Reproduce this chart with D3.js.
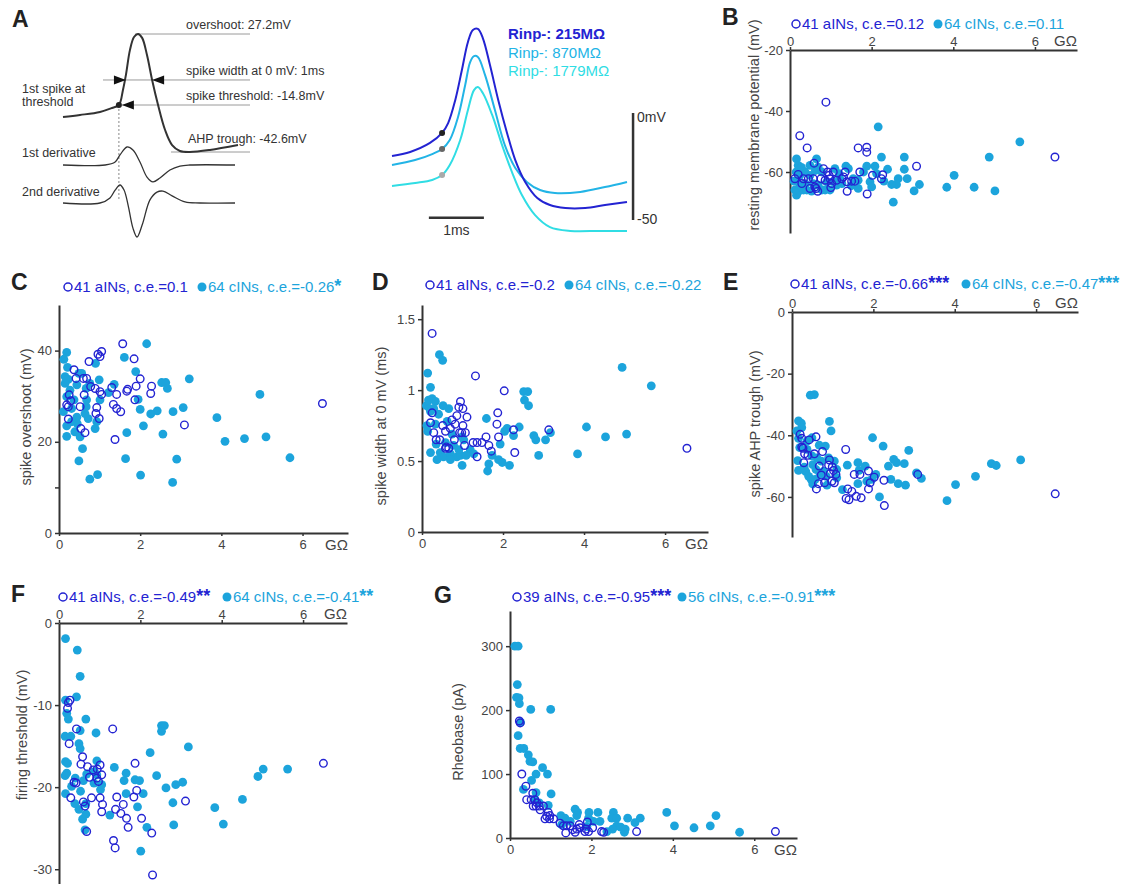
<!DOCTYPE html>
<html>
<head>
<meta charset="utf-8">
<script src="https://cdn.jsdelivr.net/npm/d3@7"></script>
<style>
  body { margin: 0; background: #fff; }
  svg { font-family: "Liberation Sans", Arial, sans-serif; }
  .axis path, .axis line { stroke: #333; }
  .axis path { stroke-width: 2; }
  .axis line { stroke-width: 1.5; }
  .axis text { fill: #444; font-size: 13px; font-family: "Liberation Sans", Arial, sans-serif; }
</style>
</head>
<body>
<svg id="fig" width="1126" height="884"></svg>
<script>
// ---- panel A, left: example spike (ms, mV) and its derivatives (a.u.)
const spikeTrace = [[0,-21.9],[0.63,-20.7],[1.37,-18.9],[1.81,-16.6],[2.07,-14.8],[2.22,-5.9],[2.33,3.0],[2.48,17.8],[2.63,25.4],[2.78,27.2],[2.93,24.9],[3.11,14.8],[3.3,0],[3.52,-14.8],[3.78,-29.6],[4.04,-38.5],[4.33,-42.0],[4.7,-42.6],[5.44,-41.4],[6.48,-38.5]];
const deriv1 = [[0,0],[1.56,0],[1.93,0.17],[2.11,0.56],[2.37,1.0],[2.59,0.83],[2.85,0.17],[3.11,-0.67],[3.33,-0.94],[3.59,-0.72],[3.96,-0.28],[4.33,-0.06],[4.7,0],[6.37,0]];
const deriv2 = [[0,0],[1.37,0],[1.74,0.15],[1.93,0.38],[2.11,0.53],[2.26,0.38],[2.41,-0.06],[2.59,-0.74],[2.74,-1.0],[2.93,-0.65],[3.22,0.09],[3.48,0.32],[3.7,0.35],[4.04,0.21],[4.52,0.03],[5.07,0],[6.37,0]];
const spikeMarks = { overshoot: 27.2, threshold: -14.8, ahp: -42.6, tThreshold: 2.07, widthStart: 2.33, widthEnd: 3.3 };

// ---- panel A, middle: spikes of three cells (ms, mV)
const rinLabels = ["Rinp-: 215MΩ", "Rinp-: 870MΩ", "Rinp-: 1779MΩ"];
const trace215 = [[0,-20.1],[0.33,-18.2],[0.69,-14.0],[0.91,-9.3],[1.02,-4.7],[1.15,6.1],[1.27,20.1],[1.38,33.2],[1.47,38.8],[1.56,39.3],[1.65,35.0],[1.78,22.4],[1.93,6.1],[2.09,-9.3],[2.24,-22.0],[2.42,-32.2],[2.64,-39.7],[2.87,-43.0],[3.15,-44.4],[3.51,-44.4],[3.87,-43.0],[4.27,-41.6]];
const trace870 = [[0,-24.3],[0.42,-22.0],[0.73,-19.2],[0.91,-16.8],[1.05,-12.6],[1.2,-1.9],[1.33,13.1],[1.42,23.8],[1.49,26.6],[1.56,26.2],[1.69,17.8],[1.87,1.4],[2.05,-15.0],[2.24,-25.7],[2.45,-32.2],[2.69,-36.0],[2.96,-37.4],[3.42,-36.9],[3.87,-34.6],[4.27,-32.2]];
const trace1779 = [[0,-34.1],[0.42,-32.7],[0.73,-31.3],[0.91,-29.0],[1.05,-24.3],[1.24,-12.6],[1.38,1.4],[1.49,10.7],[1.56,12.1],[1.65,9.3],[1.82,-0.9],[2.0,-15.0],[2.18,-27.6],[2.36,-38.3],[2.6,-47.7],[2.87,-53.3],[3.24,-55.1],[3.78,-55.1],[4.27,-55.1]];
const thresholdT = 0.91;

// ---- scatter data: [input resistance (GΩ), value]
const gohmTicks = [0, 2, 4, 6];

const restA = [[0.88,-37.1],[0.24,-48.1],[0.42,-52.1],[1.67,-52.1],[1.88,-51.9],[1.88,-53.5],[0.59,-57.1],[0.82,-58.9],[0.20,-60.8],[0.29,-63.8],[0.33,-62.2],[0.45,-62.2],[0.61,-64.9],[0.68,-66.3],[0.64,-65.4],[0.76,-62.2],[0.92,-60.0],[0.98,-62.2],[1.02,-63.8],[1.00,-65.1],[1.06,-60.0],[0.96,-61.1],[1.35,-60.0],[1.31,-61.6],[1.39,-63.2],[1.40,-66.3],[1.51,-63.0],[1.59,-63.0],[1.71,-60.0],[1.89,-67.2],[2.02,-61.1],[2.24,-62.2],[2.27,-60.9],[3.10,-58.1],[6.49,-55.1],[0.57,-62.2],[0.12,-62.2],[0.49,-65.4],[0.86,-62.7],[1.14,-62.7],[1.27,-62.2]];
const restC = [[2.16,-45.2],[5.63,-50.1],[4.88,-55.1],[2.24,-55.1],[2.80,-55.1],[0.16,-55.7],[4.02,-61.1],[3.84,-65.0],[4.51,-65.0],[5.02,-66.2],[2.53,-69.9],[3.17,-64.1],[3.04,-66.2],[2.87,-62.2],[2.80,-59.1],[2.65,-62.2],[2.61,-64.1],[2.49,-64.1],[2.39,-59.1],[2.08,-58.1],[1.88,-58.1],[1.96,-63.2],[2.00,-64.9],[1.67,-65.4],[1.55,-62.2],[1.37,-58.1],[1.22,-62.2],[1.27,-63.8],[1.14,-64.3],[0.98,-65.9],[0.90,-63.2],[0.65,-55.7],[0.49,-57.8],[0.37,-60.0],[0.33,-65.9],[0.20,-66.5],[0.16,-67.6],[0.12,-65.9],[0.10,-63.0],[0.15,-60.0],[0.20,-57.8],[0.24,-61.1],[0.41,-65.9],[0.53,-66.3],[0.69,-64.3],[0.78,-65.9],[0.86,-65.9],[0.49,-61.1],[0.69,-58.4],[0.78,-60.0],[1.06,-63.2],[1.10,-58.9],[1.43,-58.9],[1.67,-62.7],[1.80,-60.0],[2.12,-60.5],[0.24,-64.3],[0.57,-63.8],[0.37,-63.8],[0.62,-59.5],[1.20,-60.5],[1.50,-64.5],[0.28,-58.5],[2.30,-63.0]];

const overA = [[1.57,41.5],[1.05,39.8],[0.96,39.2],[1.01,38.7],[0.74,37.6],[1.85,38.2],[0.37,35.8],[0.42,33.9],[0.60,33.9],[0.68,33.9],[0.78,32.1],[0.89,31.7],[1.01,31.0],[1.05,30.4],[0.62,30.3],[0.25,30.3],[0.29,29.0],[0.19,28.1],[0.23,27.7],[0.52,27.7],[0.93,27.5],[0.91,26.2],[0.99,25.1],[0.23,25.0],[0.54,22.9],[0.64,22.0],[1.30,31.9],[1.34,28.2],[1.42,27.3],[1.52,26.6],[1.38,20.5],[1.42,30.4],[1.67,31.1],[1.69,31.5],[1.90,32.2],[2.00,33.8],[1.87,29.2],[2.28,32.2],[2.26,30.6],[3.09,23.7],[6.49,28.4]];
const overC = [[2.16,41.5],[0.19,39.6],[0.12,38.1],[1.61,38.5],[0.90,37.2],[0.21,36.3],[0.49,35.0],[1.89,35.4],[0.15,34.3],[0.23,33.7],[0.15,32.8],[0.44,32.5],[0.99,33.6],[1.36,32.6],[3.21,33.8],[2.53,33.0],[2.63,33.0],[2.67,31.7],[0.67,31.7],[0.76,32.8],[1.22,30.8],[0.19,29.9],[0.37,29.2],[4.95,30.4],[1.95,29.3],[0.67,27.7],[3.06,27.5],[0.11,26.6],[0.31,27.3],[2.42,26.8],[2.26,26.1],[2.00,27.1],[2.81,26.6],[3.89,25.3],[0.44,25.4],[0.72,25.1],[0.45,24.0],[0.93,24.4],[0.19,23.5],[2.08,23.5],[0.39,22.2],[2.56,21.7],[1.67,22.0],[0.19,21.2],[4.57,20.7],[5.10,21.1],[4.09,20.1],[0.58,18.5],[0.49,15.8],[1.64,16.3],[2.90,16.2],[5.69,16.5],[0.95,12.8],[0.76,11.8],[2.01,12.7],[2.80,11.1],[0.52,21.1],[0.64,26.2],[0.27,31.3],[0.68,29.2],[0.56,35.0],[1.01,29.2],[0.31,24.4],[0.89,22.9]];

const widthA = [[0.25,1.40],[1.32,1.10],[2.03,0.995],[0.25,0.84],[0.95,0.92],[0.91,0.88],[1.01,0.87],[1.87,0.84],[0.21,0.77],[0.86,0.82],[0.74,0.79],[0.51,0.75],[1.01,0.75],[1.85,0.76],[0.70,0.73],[0.29,0.70],[0.93,0.70],[1.07,0.70],[2.26,0.72],[3.13,0.72],[0.58,0.71],[0.35,0.65],[0.44,0.65],[0.80,0.65],[1.89,0.67],[1.58,0.67],[1.36,0.63],[1.48,0.63],[1.26,0.63],[1.05,0.61],[0.58,0.59],[0.66,0.59],[1.65,0.61],[1.71,0.57],[2.29,0.56],[1.36,0.53],[6.54,0.59],[0.82,0.76],[0.60,0.60],[1.11,0.81],[0.98,0.70]];
const widthC = [[0.43,1.25],[0.51,1.21],[0.14,1.12],[0.21,1.02],[0.11,0.89],[0.25,0.94],[0.33,0.92],[0.19,0.87],[0.52,0.89],[0.66,0.87],[0.41,0.83],[4.94,1.16],[5.66,1.03],[2.51,0.99],[2.61,0.99],[2.53,0.93],[2.63,0.89],[2.40,0.74],[2.04,0.71],[2.10,0.73],[4.06,0.74],[4.53,0.67],[5.05,0.69],[2.76,0.68],[2.81,0.65],[3.05,0.65],[3.17,0.70],[3.84,0.55],[2.88,0.54],[1.59,0.80],[0.12,0.75],[0.14,0.71],[0.21,0.56],[0.35,0.62],[0.45,0.56],[0.53,0.53],[0.70,0.55],[0.86,0.53],[0.95,0.54],[0.99,0.47],[1.19,0.58],[1.62,0.43],[1.65,0.48],[1.89,0.51],[1.98,0.49],[2.16,0.47],[1.93,0.62],[1.73,0.54],[0.58,0.63],[0.78,0.61],[0.91,0.58],[0.99,0.67],[0.33,0.76],[0.21,0.85],[0.62,0.78],[0.74,0.69],[0.29,0.87],[2.26,0.68],[1.28,0.55],[0.70,0.51],[0.37,0.51],[1.03,0.65],[1.09,0.54],[0.16,0.93]];

const ahpA = [[0.59,-40.5],[0.20,-39.7],[0.24,-41.0],[0.42,-41.5],[0.24,-43.8],[0.27,-44.2],[0.31,-46.0],[0.39,-46.5],[0.29,-48.9],[0.75,-45.3],[0.55,-46.0],[1.32,-44.6],[0.92,-48.0],[0.67,-50.0],[0.99,-50.3],[1.02,-51.4],[0.94,-52.4],[1.08,-52.7],[0.72,-52.9],[0.98,-54.9],[1.04,-55.4],[0.80,-55.4],[0.65,-55.7],[0.60,-57.4],[1.53,-52.7],[1.67,-52.7],[1.88,-51.6],[1.92,-55.4],[1.88,-57.4],[2.02,-53.6],[2.26,-54.6],[3.09,-52.7],[1.37,-57.4],[1.47,-58.2],[1.33,-60.5],[1.40,-60.9],[1.58,-59.8],[1.70,-60.3],[2.27,-62.8],[6.47,-59.0],[0.90,-49.7]];
const ahpC = [[0.45,-27.0],[0.55,-26.8],[0.16,-35.3],[0.23,-36.1],[0.92,-35.5],[0.96,-38.6],[1.98,-40.8],[2.24,-43.5],[2.87,-44.9],[2.50,-47.8],[2.57,-48.9],[2.76,-49.2],[4.90,-49.2],[5.02,-49.8],[5.62,-48.0],[4.51,-53.3],[4.02,-56.0],[3.81,-61.2],[2.15,-60.0],[2.43,-54.3],[2.61,-55.7],[2.79,-56.2],[3.06,-52.2],[3.18,-54.0],[1.36,-49.7],[1.62,-48.9],[1.65,-51.4],[1.62,-55.7],[1.24,-57.6],[2.06,-52.7],[0.12,-38.6],[0.16,-41.0],[0.14,-48.2],[0.16,-51.4],[0.34,-51.8],[0.30,-50.3],[0.47,-54.3],[0.51,-55.8],[0.57,-54.3],[0.67,-43.2],[0.82,-43.5],[0.61,-47.3],[0.72,-48.4],[0.51,-49.5],[0.59,-51.1],[0.78,-51.6],[0.84,-53.3],[0.37,-44.6],[0.49,-46.7],[0.90,-47.3],[1.10,-53.8],[1.04,-48.4],[0.19,-44.0],[0.37,-41.8],[0.24,-37.5],[0.69,-52.7],[1.96,-54.3],[1.84,-54.9],[0.86,-56.2],[0.41,-53.3],[1.10,-51.1],[2.37,-50.0],[1.80,-50.0],[0.49,-40.8]];

const threshA = [[0.27,-9.4],[0.23,-9.7],[0.21,-10.4],[0.43,-12.9],[1.32,-12.9],[0.25,-14.7],[0.58,-16.3],[0.54,-17.2],[0.70,-17.5],[1.01,-17.3],[0.94,-17.8],[1.87,-17.1],[0.84,-17.9],[0.75,-18.8],[1.05,-18.5],[0.93,-18.9],[0.97,-19.3],[0.37,-19.4],[0.42,-19.5],[1.91,-20.4],[0.29,-21.3],[0.80,-21.3],[1.01,-21.3],[1.42,-21.2],[1.84,-21.2],[3.11,-21.7],[0.60,-21.8],[0.64,-22.3],[1.07,-22.1],[1.58,-22.1],[1.39,-22.7],[1.05,-23.0],[1.52,-23.2],[1.66,-23.8],[2.03,-23.8],[1.70,-24.9],[0.68,-25.4],[2.28,-25.6],[1.34,-26.5],[1.38,-27.4],[2.30,-30.7],[6.50,-17.1]];
const threshC = [[0.16,-1.9],[0.45,-3.3],[0.52,-6.5],[0.43,-9.0],[0.16,-9.4],[0.19,-11.0],[0.23,-11.7],[0.66,-11.7],[0.52,-13.1],[0.91,-13.4],[0.15,-13.8],[0.29,-13.8],[0.49,-14.7],[2.52,-12.5],[2.59,-12.5],[2.52,-13.2],[3.18,-15.1],[2.24,-15.8],[0.16,-16.9],[0.21,-17.1],[0.19,-18.3],[0.15,-18.6],[0.93,-16.8],[1.36,-17.6],[1.65,-18.3],[1.60,-19.2],[1.87,-19.1],[1.98,-19.2],[2.40,-18.6],[2.87,-19.7],[3.04,-19.4],[2.63,-20.1],[0.16,-20.8],[0.53,-20.5],[1.02,-20.3],[1.65,-20.8],[2.07,-20.8],[2.80,-21.9],[0.49,-22.7],[0.58,-23.9],[0.66,-23.3],[1.25,-23.4],[1.93,-22.4],[0.64,-25.2],[2.16,-24.9],[2.82,-24.6],[2.01,-27.8],[3.83,-22.5],[4.51,-21.5],[4.04,-24.5],[4.89,-18.7],[5.02,-17.8],[5.62,-17.8],[0.60,-19.2],[0.68,-18.4],[0.86,-19.5],[0.31,-19.9],[0.39,-22.0],[0.93,-18.5],[0.52,-15.3],[0.87,-18.1],[0.40,-18.9],[0.66,-22.0],[1.05,-19.7]];

const rheoA = [[0.25,180],[0.29,100],[0.39,81],[0.41,60],[0.56,70],[0.61,60],[0.57,50],[0.64,50],[0.72,50],[0.82,50],[0.94,40],[0.98,35],[0.86,30],[0.97,30],[1.07,30],[1.31,19],[1.39,19],[1.37,8],[1.48,19],[1.54,13],[1.64,14],[1.70,21],[1.60,9],[1.72,16],[1.84,10],[1.87,14],[1.90,25],[1.93,10],[2.03,16],[2.25,10],[2.30,9],[3.11,10],[6.52,10],[1.23,23],[0.90,34],[0.74,44],[0.52,60],[0.23,183],[0.66,55]];
const rheoC = [[0.12,300],[0.20,300],[0.18,240],[0.16,220],[0.22,219],[0.23,210],[0.26,181],[0.51,201],[1.00,201],[0.20,160],[0.25,140],[0.34,140],[0.45,130],[0.49,120],[0.56,119],[0.80,110],[0.64,100],[0.92,100],[0.53,90],[0.33,76],[0.64,71],[1.01,69],[0.61,60],[0.72,55],[0.94,51],[1.25,35],[1.35,31],[1.60,45],[1.66,40],[1.64,35],[1.94,40],[2.16,40],[1.93,31],[2.05,26],[2.21,26],[2.54,40],[2.50,31],[2.62,31],[2.62,19],[2.52,14],[2.72,17],[2.83,14],[2.81,9],[2.89,31],[3.07,24],[3.20,31],[3.85,40],[4.04,19],[4.52,16],[4.92,19],[5.06,35],[5.64,9],[1.89,18],[1.48,26],[2.38,10],[1.27,21]];

const aColor = "#2323d2", cColor = "#1ca4dc", c870 = "#22b4e6", c1779 = "#30dde4";
const svg = d3.select("#fig");

function panelLetter(txt, x, y) {
  svg.append("text").attr("x", x).attr("y", y).attr("font-size", 23).attr("font-weight", "bold")
    .attr("fill", "#222").text(txt);
}

// ================= panel A, left =================
const xA = d3.scaleLinear().domain([0, 6.48]).range([63, 238]);
const yA = d3.scaleLinear().domain([-42.6, 27.2]).range([152, 34]);
const yD1 = d3.scaleLinear().domain([-1, 1]).range([183, 147]);
const yD2 = d3.scaleLinear().domain([-1, 1]).range([237, 169]);
const curve = d3.curveCatmullRom.alpha(0.5);

const gA = svg.append("g");
const annColor = "#9a9a9a";
// guide lines
gA.append("line").attr("x1", xA(2.68)).attr("x2", 250).attr("y1", yA(spikeMarks.overshoot)).attr("y2", yA(spikeMarks.overshoot)).attr("stroke", annColor);
gA.append("line").attr("x1", 103).attr("x2", 250).attr("y1", yA(0)).attr("y2", yA(0)).attr("stroke", annColor);
gA.append("line").attr("x1", xA(spikeMarks.tThreshold) + 3).attr("x2", 250).attr("y1", yA(spikeMarks.threshold)).attr("y2", yA(spikeMarks.threshold)).attr("stroke", annColor);
gA.append("line").attr("x1", xA(4.0)).attr("x2", 250).attr("y1", yA(spikeMarks.ahp)).attr("y2", yA(spikeMarks.ahp)).attr("stroke", annColor);
gA.append("line").attr("x1", xA(spikeMarks.tThreshold)).attr("x2", xA(spikeMarks.tThreshold))
  .attr("y1", yA(spikeMarks.threshold)).attr("y2", yD2(0) - 2)
  .attr("stroke", "#888").attr("stroke-dasharray", "2,2");

const lineA = d3.line().x(d => xA(d[0])).curve(curve);
gA.append("path").attr("d", lineA.y(d => yA(d[1]))(spikeTrace)).attr("fill", "none").attr("stroke", "#333").attr("stroke-width", 2);
gA.append("path").attr("d", lineA.y(d => yD1(d[1]))(deriv1)).attr("fill", "none").attr("stroke", "#333").attr("stroke-width", 1.3);
gA.append("path").attr("d", lineA.y(d => yD2(d[1]))(deriv2)).attr("fill", "none").attr("stroke", "#333").attr("stroke-width", 1.3);
gA.append("circle").attr("cx", xA(spikeMarks.tThreshold)).attr("cy", yA(spikeMarks.threshold)).attr("r", 3).attr("fill", "#222");

// arrow heads
function arrowHead(tipX, tipY, dir) {
  const L = 12, H = 4.5;
  gA.append("path").attr("d", `M${tipX},${tipY} L${tipX - dir * L},${tipY - H} L${tipX - dir * L},${tipY + H} Z`).attr("fill", "#111");
}
arrowHead(xA(spikeMarks.widthStart), yA(0), 1);
arrowHead(xA(spikeMarks.widthEnd), yA(0), -1);
arrowHead(xA(spikeMarks.tThreshold) + 3, yA(spikeMarks.threshold), -1);

const annTexts = [
  ["overshoot: 27.2mV", 186, 29], ["spike width at 0 mV: 1ms", 186, 75],
  ["spike threshold: -14.8mV", 186, 100], ["AHP trough: -42.6mV", 188, 143],
  ["1st spike at", 22, 93], ["threshold", 22, 106],
  ["1st derivative", 22, 157], ["2nd derivative", 22, 196]
];
gA.selectAll(".ann").data(annTexts).join("text").attr("class", "ann")
  .attr("x", d => d[1]).attr("y", d => d[2]).attr("font-size", 12.5).attr("fill", "#333").text(d => d[0]);

panelLetter("A", 12, 27);

// ================= panel A, middle =================
const xM = d3.scaleLinear().domain([0, 4.27]).range([392, 627]);
const yM = d3.scaleLinear().domain([-50, 0]).range([220, 113]);
const gM = svg.append("g");
const lineM = d3.line().x(d => xM(d[0])).y(d => yM(d[1])).curve(curve);
const mTraces = [[trace1779, c1779], [trace870, c870], [trace215, aColor]];
mTraces.forEach(([tr, col]) => {
  gM.append("path").attr("d", lineM(tr)).attr("fill", "none").attr("stroke", col).attr("stroke-width", 2);
});
const dotCols = ["#222", "#666", "#aaa"];
[trace215, trace870, trace1779].forEach((tr, i) => {
  const p = tr.find(d => d[0] === thresholdT);
  gM.append("circle").attr("cx", xM(p[0])).attr("cy", yM(p[1])).attr("r", 3).attr("fill", dotCols[i]);
});
[aColor, c870, c1779].forEach((col, i) => {
  gM.append("text").attr("x", 508).attr("y", 39 + i * 18.5).attr("font-size", 15)
    .attr("font-weight", i === 0 ? "bold" : "normal").attr("fill", col).text(rinLabels[i]);
});
// scale bars
gM.append("line").attr("x1", xM(0.67)).attr("x2", xM(1.67)).attr("y1", yM(-49)).attr("y2", yM(-49)).attr("stroke", "#333").attr("stroke-width", 2.5);
gM.append("text").attr("x", xM(1.17)).attr("y", 235).attr("text-anchor", "middle").attr("font-size", 14).attr("fill", "#333").text("1ms");
gM.append("line").attr("x1", xM(4.38)).attr("x2", xM(4.38)).attr("y1", yM(0)).attr("y2", yM(-50)).attr("stroke", "#333").attr("stroke-width", 2.5);
gM.append("text").attr("x", 637).attr("y", 122).attr("font-size", 14).attr("fill", "#333").text("0mV");
gM.append("text").attr("x", 637).attr("y", 224).attr("font-size", 14).attr("fill", "#333").text("-50");

// ================= scatter panels =================
function scatterPanel(p) {
  const x = d3.scaleLinear().domain([0, p.xMax]).range([p.left, p.right]);
  const y = d3.scaleLinear().domain(p.yDomain).range([p.bottom, p.top]);
  const g = svg.append("g");
  const lineY = p.axisTop ? p.top : p.bottom;

  const xAxis = (p.axisTop ? d3.axisTop(x) : d3.axisBottom(x))
    .tickValues(gohmTicks).tickFormat(d3.format("d"))
    .tickSize(3).tickPadding(p.axisTop ? 1 : 4).tickSizeOuter(0);
  g.append("g").attr("class", "axis").attr("transform", `translate(0,${lineY})`).call(xAxis);
  g.append("g").attr("class", "axis").attr("transform", `translate(${p.left},0)`)
    .call(d3.axisLeft(y).tickValues(p.yTicks).tickFormat(p.yFormat).tickSize(4).tickPadding(3).tickSizeOuter(0));

  g.append("text").attr("x", p.right).attr("y", p.axisTop ? lineY - 4 : lineY + 17)
    .attr("text-anchor", "end").attr("font-size", 15).attr("fill", "#444").text("GΩ");

  g.append("text").attr("transform", `translate(${p.titleX},${p.titleY}) rotate(-90)`)
    .attr("text-anchor", "middle").attr("font-size", 14.5).attr("fill", "#444").text(p.title);

  g.selectAll(".cdot").data(p.cData).join("circle").attr("class", "cdot")
    .attr("cx", d => x(d[0])).attr("cy", d => y(d[1])).attr("r", 4.4).attr("fill", cColor);
  g.selectAll(".aring").data(p.aData).join("circle").attr("class", "aring")
    .attr("cx", d => x(d[0])).attr("cy", d => y(d[1])).attr("r", 3.8)
    .attr("fill", "none").attr("stroke", aColor).attr("stroke-width", 1.4);

  // legend
  const L = p.legend;
  g.append("circle").attr("cx", L.ax).attr("cy", L.y - 5).attr("r", 4).attr("fill", "none").attr("stroke", aColor).attr("stroke-width", 1.5);
  const ta = g.append("text").attr("x", L.ax + 6).attr("y", L.y).attr("font-size", 15).attr("fill", aColor);
  ta.append("tspan").text(L.aText);
  if (L.aStar) ta.append("tspan").attr("font-size", 18).attr("font-weight", "bold").text(L.aStar);
  g.append("circle").attr("cx", L.cx).attr("cy", L.y - 5).attr("r", 4.5).attr("fill", cColor);
  const tc = g.append("text").attr("x", L.cx + 6).attr("y", L.y).attr("font-size", 15).attr("fill", cColor);
  tc.append("tspan").text(L.cText);
  if (L.cStar) tc.append("tspan").attr("font-size", 18).attr("font-weight", "bold").text(L.cStar);

  panelLetter(p.letter, p.letterX, p.letterY);
}

scatterPanel({
  letter: "B", letterX: 722, letterY: 25,
  left: 790, right: 1077, xMax: 7.03, top: 50, bottom: 233, yDomain: [-80, -20], axisTop: true,
  yTicks: [-60, -40, -20], yFormat: d => d,
  title: "resting membrane potential (mV)", titleX: 759, titleY: 125,
  aData: restA, cData: restC,
  legend: { ax: 796, cx: 938, y: 29, aText: "41 aINs, c.e.=0.12", cText: "64 cINs, c.e.=0.11" }
});
scatterPanel({
  letter: "C", letterX: 11, letterY: 290,
  left: 59, right: 348, xMax: 7.12, top: 305, bottom: 533, yDomain: [0, 50], axisTop: false,
  yTicks: [0, 10, 20, 40], yFormat: d => (d === 10 ? "" : d),
  title: "spike overshoot (mV)", titleX: 31, titleY: 417,
  aData: overA, cData: overC,
  legend: { ax: 68, cx: 202, y: 292, aText: "41 aINs, c.e.=0.1", cText: "64 cINs, c.e.=-0.26", cStar: "*" }
});
scatterPanel({
  letter: "D", letterX: 372, letterY: 290,
  left: 422, right: 708, xMax: 7.06, top: 305, bottom: 532, yDomain: [0, 1.6], axisTop: false,
  yTicks: [0, 0.5, 1, 1.5], yFormat: d => d,
  title: "spike width at 0 mV (ms)", titleX: 386, titleY: 426,
  aData: widthA, cData: widthC,
  legend: { ax: 430, cx: 569, y: 290, aText: "41 aINs, c.e.=-0.2", cText: "64 cINs, c.e.=-0.22" }
});
scatterPanel({
  letter: "E", letterX: 723, letterY: 290,
  left: 792, right: 1078, xMax: 7.03, top: 312, bottom: 537, yDomain: [-73, 0], axisTop: true,
  yTicks: [-60, -40, -20, 0], yFormat: d => d,
  title: "spike AHP trough (mV)", titleX: 760, titleY: 424,
  aData: ahpA, cData: ahpC,
  legend: { ax: 795, cx: 966, y: 289, aText: "41 aINs, c.e.=-0.66", aStar: "***", cText: "64 cINs, c.e.=-0.47", cStar: "***" }
});
scatterPanel({
  letter: "F", letterX: 11, letterY: 602,
  left: 59, right: 347, xMax: 7.08, top: 623, bottom: 884, yDomain: [-31.8, 0], axisTop: true,
  yTicks: [-30, -20, -10, 0], yFormat: d => d,
  title: "firing threshold (mV)", titleX: 27, titleY: 735,
  aData: threshA, cData: threshC,
  legend: { ax: 63, cx: 227, y: 602, aText: "41 aINs, c.e.=-0.49", aStar: "**", cText: "64 cINs, c.e.=-0.41", cStar: "**" }
});
scatterPanel({
  letter: "G", letterX: 434, letterY: 603,
  left: 510, right: 797, xMax: 7.05, top: 611, bottom: 838, yDomain: [0, 355], axisTop: false,
  yTicks: [0, 100, 200, 300], yFormat: d => d,
  title: "Rheobase (pA)", titleX: 463, titleY: 732,
  aData: rheoA, cData: rheoC,
  legend: { ax: 517, cx: 682, y: 602, aText: "39 aINs, c.e.=-0.95", aStar: "***", cText: "56 cINs, c.e.=-0.91", cStar: "***" }
});
</script>
</body>
</html>
